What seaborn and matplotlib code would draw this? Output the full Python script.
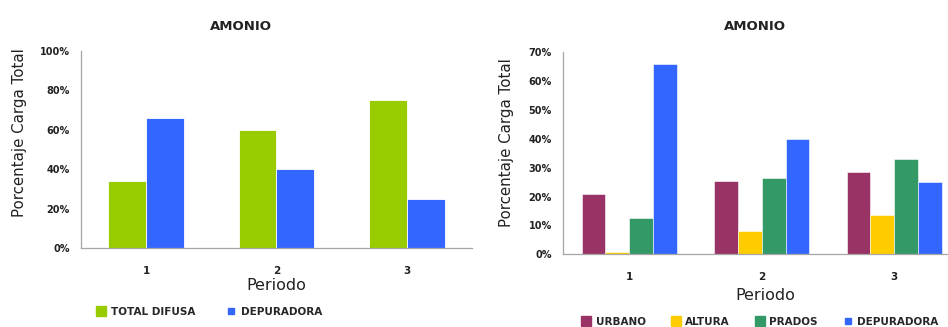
import matplotlib
matplotlib.use("Agg")
import matplotlib.pyplot as plt
from matplotlib.lines import Line2D
from matplotlib.ticker import FuncFormatter
import pandas as pd
import seaborn as sns

# Periods (x categories)
periodos = ["1", "2", "3"]

# Left panel: diffuse vs. treatment-plant share (%)
total_difusa = [34, 60, 75]
depuradora = [66, 40, 25]

# Right panel: breakdown by source (%)
urbano = [21, 25.5, 28.5]
altura = [0.7, 8, 13.5]
prados = [12.5, 26.5, 33]
depuradora_det = [66, 40, 25]

colores_izq = {"TOTAL DIFUSA": "#99CC00", "DEPURADORA": "#3366FF"}
colores_der = {"URBANO": "#993366", "ALTURA": "#FFCC00",
               "PRADOS": "#339966", "DEPURADORA": "#3366FF"}

sns.set_theme(style="white")
plt.rcParams["font.family"] = ["DejaVu Sans"]


def long_df(series):
    rows = []
    for name, vals in series.items():
        for p, v in zip(periodos, vals):
            rows.append({"Periodo": p, "Serie": name, "Valor": v})
    return pd.DataFrame(rows)


df_izq = long_df({"TOTAL DIFUSA": total_difusa, "DEPURADORA": depuradora})
df_der = long_df({"URBANO": urbano, "ALTURA": altura,
                  "PRADOS": prados, "DEPURADORA": depuradora_det})

fig = plt.figure(figsize=(9.48, 3.27), dpi=100)
ax1 = fig.add_axes([0.0854, 0.2416, 0.4124, 0.6024])
ax2 = fig.add_axes([0.5939, 0.2223, 0.4050, 0.6177])

sns.barplot(data=df_izq, x="Periodo", y="Valor", hue="Serie",
            palette=colores_izq, width=0.58, ax=ax1, legend=False,
            edgecolor="white", linewidth=0.6, saturation=1)
sns.barplot(data=df_der, x="Periodo", y="Valor", hue="Serie",
            palette=colores_der, width=0.72, ax=ax2, legend=False,
            edgecolor="white", linewidth=0.4, saturation=1)

pct = FuncFormatter(lambda v, _: f"{v:.0f}%")
for ax, top, step, xmax in [(ax1, 100, 20, 2.5), (ax2, 70, 10, 2.398)]:
    ax.set_ylim(0, top)
    ax.set_yticks(range(0, top + 1, step))
    ax.yaxis.set_major_formatter(pct)
    ax.set_xlim(-0.5, xmax)
    ax.set_xlabel("")
    ax.set_ylabel("")
    for s in ["top", "right"]:
        ax.spines[s].set_visible(False)
    for s in ["left", "bottom"]:
        ax.spines[s].set_color("#A6A6A6")
        ax.spines[s].set_linewidth(0.9)
    ax.tick_params(axis="both", length=0, labelsize=7, labelcolor="#222222")
    ax.tick_params(axis="x", pad=13, labelsize=7.5)
    ax.tick_params(axis="y", pad=8)
    for lbl in ax.get_xticklabels() + ax.get_yticklabels():
        lbl.set_fontweight("bold")

# Titles and axis labels
fig.text(241 / 948, 1 - 26 / 327, "AMONIO", ha="center", va="center",
         fontsize=9.5, fontweight="bold", color="#222222")
fig.text(755 / 948, 1 - 27 / 327, "AMONIO", ha="center", va="center",
         fontsize=9.5, fontweight="bold", color="#222222")
fig.text(20 / 948, 1 - 133 / 327, "Porcentaje Carga Total", rotation=90,
         ha="center", va="center", fontsize=10.8, color="#222222")
fig.text(507 / 948, 1 - 143 / 327, "Porcentaje Carga Total", rotation=90,
         ha="center", va="center", fontsize=10.8, color="#222222")
fig.text(276 / 948, 1 - 286 / 327, "Periodo", ha="center", va="center",
         fontsize=11.5, color="#222222")
fig.text(765 / 948, 1 - 295 / 327, "Periodo", ha="center", va="center",
         fontsize=11.5, color="#222222")


def handles(colors, small=()):
    return [Line2D([], [], linestyle="none", marker="s",
                   markersize=5 if n in small else 7.5,
                   markerfacecolor=c, markeredgecolor=c, label=n)
            for n, c in colors.items()]


leg_kw = dict(frameon=False, loc="center left", borderaxespad=0, borderpad=0,
              handlelength=1.0, handletextpad=0.4,
              prop={"weight": "bold", "size": 7.5})
fig.legend(handles=handles(colores_izq, small=("DEPURADORA",)), ncol=2,
           bbox_to_anchor=(96 / 948, 1 - 312 / 327), columnspacing=3.0,
           **leg_kw)
fig.legend(handles=handles(colores_der, small=("DEPURADORA",)), ncol=4,
           bbox_to_anchor=(581 / 948, 1 - 322 / 327), columnspacing=2.4,
           **leg_kw)

fig.savefig("out.png", dpi=100)
